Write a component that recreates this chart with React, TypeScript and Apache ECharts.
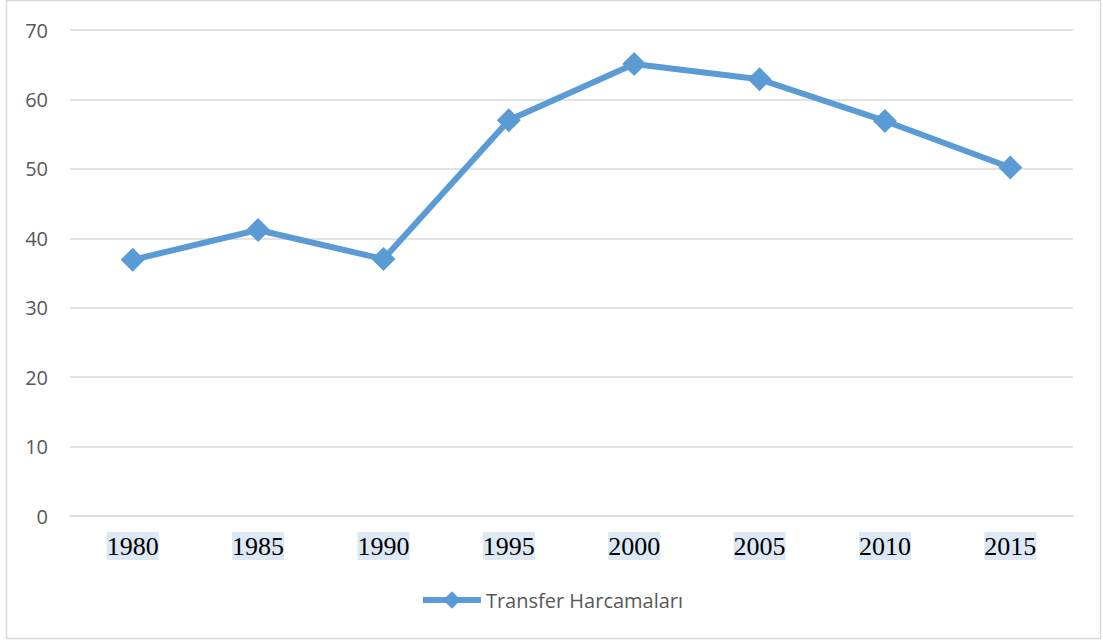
import React, { useEffect, useRef } from "react";
import * as echarts from "echarts";

const categories = ["1980", "1985", "1990", "1995", "2000", "2005", "2010", "2015"];
const values = [36.9, 41.2, 37.0, 57.0, 65.1, 62.9, 56.9, 50.2];
const seriesName = "Transfer Harcamaları";

export default function App() {
  const ref = useRef<HTMLDivElement>(null);
  useEffect(() => {
    const chart = echarts.init(ref.current!, undefined, { renderer: "svg" });
    chart.setOption({
      animation: false,
      backgroundColor: "#ffffff",
      graphic: [
        {
          type: "rect",
          shape: { x: 6.5, y: 0.5, width: 1094, height: 638 },
          style: { fill: "none", stroke: "#d9d9d9", lineWidth: 1.5 },
          silent: true,
        },
      ],
      grid: { left: 70, right: 30, top: 30, bottom: 127 },
      legend: {
        data: [seriesName],
        bottom: 28,
        left: "center",
        itemWidth: 58,
        itemHeight: 22,
        itemGap: 4,
        lineStyle: { width: 6 },
        textStyle: { fontFamily: "Open Sans", fontSize: 20, color: "#595959" },
      },
      xAxis: {
        type: "category",
        data: categories,
        boundaryGap: true,
        axisLine: { show: true, lineStyle: { color: "#d9d9d9", width: 1.5 } },
        axisTick: { show: false },
        axisLabel: {
          margin: 16,
          fontFamily: "Liberation Serif",
          fontSize: 26,
          color: "#000000",
          backgroundColor: "#dde8f5",
          padding: [1, 0, 1, 0],
        },
      },
      yAxis: {
        type: "value",
        min: 0,
        max: 70,
        interval: 10,
        axisLine: { show: false },
        axisTick: { show: false },
        splitLine: { lineStyle: { color: "#d9d9d9", width: 1.5 } },
        axisLabel: {
          margin: 22,
          fontFamily: "Open Sans",
          fontSize: 20,
          color: "#595959",
        },
      },
      series: [
        {
          name: seriesName,
          type: "line",
          data: values,
          symbol: "diamond",
          symbolSize: 24,
          lineStyle: { color: "#5b9bd5", width: 6 },
          itemStyle: { color: "#5b9bd5" },
        },
      ],
    });
    return () => chart.dispose();
  }, []);
  return (
    <div
      ref={ref}
      style={{ position: "absolute", left: 0, top: 0, width: 1103, height: 643 }}
    />
  );
}
